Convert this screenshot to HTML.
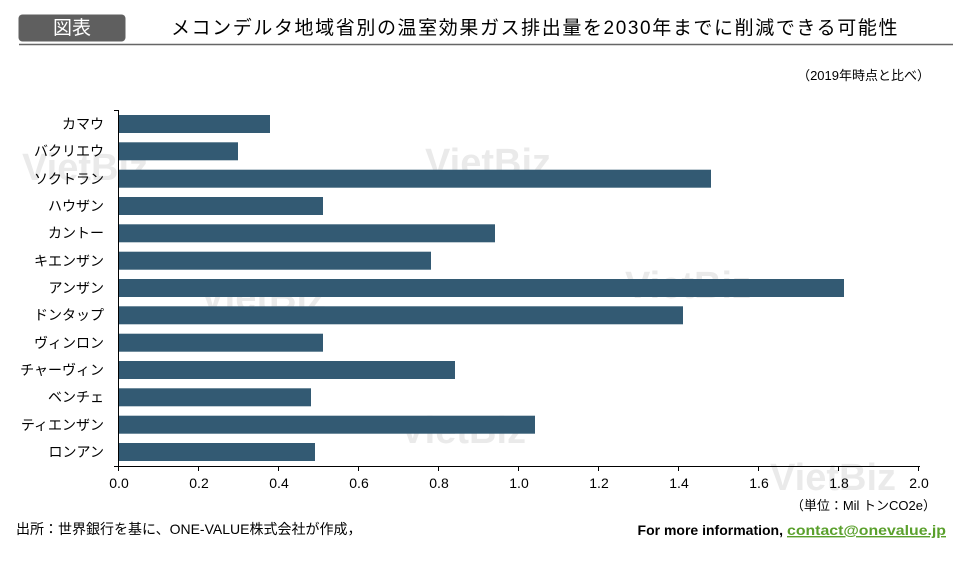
<!DOCTYPE html>
<html><head><meta charset="utf-8"><style>
body{margin:0;width:961px;height:557px;background:#fff;overflow:hidden;font-family:"Liberation Sans","Noto Sans CJK JP",sans-serif;}
</style></head><body>
<svg width="961" height="557" xmlns="http://www.w3.org/2000/svg" font-family="Liberation Sans, Noto Sans CJK JP, sans-serif">
<rect x="18.5" y="14.5" width="107" height="27" rx="4" fill="#5f5f5f"/>
<text x="72" y="34" font-size="19" fill="#fff" text-anchor="middle">図表</text>
<text x="535" y="34" font-size="19" fill="#000" text-anchor="middle" letter-spacing="1.6">メコンデルタ地域省別の温室効果ガス排出量を2030年までに削減できる可能性</text>
<line x1="19" y1="44.5" x2="953" y2="44.5" stroke="#666" stroke-width="1.5"/>
<text x="930" y="80" font-size="13" text-anchor="end">（2019年時点と比べ）</text>
<g font-size="38" font-weight="bold" fill="#000" opacity="0.08">
<text x="22" y="180">VietBiz</text><text x="425" y="175">VietBiz</text>
<text x="625" y="298">VietBiz</text><text x="200" y="310">VietBiz</text>
<text x="400" y="443">VietBiz</text><text x="770" y="490">VietBiz</text>
</g>
<g fill="#335a73">
<rect x="119" y="115" width="151" height="18"/>
<rect x="119" y="142.3" width="119" height="18"/>
<rect x="119" y="169.7" width="592" height="18"/>
<rect x="119" y="197" width="204" height="18"/>
<rect x="119" y="224.3" width="376" height="18"/>
<rect x="119" y="251.7" width="312" height="18"/>
<rect x="119" y="279" width="725" height="18"/>
<rect x="119" y="306.3" width="564" height="18"/>
<rect x="119" y="333.7" width="204" height="18"/>
<rect x="119" y="361" width="336" height="18"/>
<rect x="119" y="388.3" width="192" height="18"/>
<rect x="119" y="415.7" width="416" height="18"/>
<rect x="119" y="443" width="196" height="18"/>
</g>
<g stroke="#000" stroke-width="1">
<line x1="118.5" y1="110" x2="118.5" y2="466"/>
<line x1="118" y1="466.5" x2="920" y2="466.5"/>
<line x1="114" y1="110.5" x2="119" y2="110.5"/>
<line x1="114" y1="466.5" x2="119" y2="466.5"/>
<line x1="118.5" y1="466" x2="118.5" y2="471"/><line x1="198.5" y1="466" x2="198.5" y2="471"/>
<line x1="278.5" y1="466" x2="278.5" y2="471"/><line x1="358.5" y1="466" x2="358.5" y2="471"/>
<line x1="438.5" y1="466" x2="438.5" y2="471"/><line x1="518.5" y1="466" x2="518.5" y2="471"/>
<line x1="598.5" y1="466" x2="598.5" y2="471"/><line x1="678.5" y1="466" x2="678.5" y2="471"/>
<line x1="758.5" y1="466" x2="758.5" y2="471"/><line x1="838.5" y1="466" x2="838.5" y2="471"/>
<line x1="918.5" y1="466" x2="918.5" y2="471"/>
</g>
<g font-size="14" text-anchor="end">
<text x="104" y="129">カマウ</text>
<text x="104" y="156">バクリエウ</text>
<text x="104" y="184">ソクトラン</text>
<text x="104" y="211">ハウザン</text>
<text x="104" y="238">カントー</text>
<text x="104" y="266">キエンザン</text>
<text x="104" y="293">アンザン</text>
<text x="104" y="320">ドンタップ</text>
<text x="104" y="348">ヴィンロン</text>
<text x="104" y="375">チャーヴィン</text>
<text x="104" y="402">ベンチェ</text>
<text x="104" y="430">ティエンザン</text>
<text x="104" y="457">ロンアン</text>
</g>
<g font-size="14" text-anchor="middle">
<text x="119" y="488">0.0</text><text x="199" y="488">0.2</text><text x="279" y="488">0.4</text>
<text x="359" y="488">0.6</text><text x="439" y="488">0.8</text><text x="519" y="488">1.0</text>
<text x="599" y="488">1.2</text><text x="679" y="488">1.4</text><text x="759" y="488">1.6</text>
<text x="839" y="488">1.8</text><text x="919" y="488">2.0</text>
</g>
<text x="936" y="510" font-size="13" text-anchor="end">（単位：Mil トンCO2e）</text>
<text x="16" y="534" font-size="14">出所：世界銀行を基に、ONE-VALUE株式会社が作成，</text>
<text x="783" y="535" font-size="14" font-weight="bold" text-anchor="end">For more information,</text>
<text x="787" y="535" font-size="14" font-weight="bold" fill="#5aa02c" text-decoration="underline" textLength="159" lengthAdjust="spacingAndGlyphs">contact@onevalue.jp</text>
</svg>
</body></html>
